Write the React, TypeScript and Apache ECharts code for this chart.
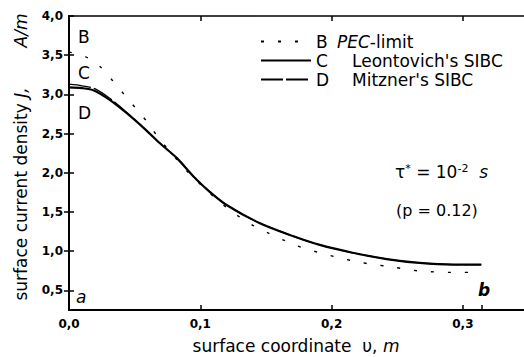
import { useEffect, useRef } from "react";
import * as echarts from "echarts";

// surface coordinate v (m) and surface current density J (A/m)
const vB = [0, 0.0122, 0.0247, 0.0335, 0.043, 0.0515, 0.06, 0.068, 0.077, 0.09, 0.106, 0.116, 0.1275, 0.139, 0.152, 0.165, 0.177, 0.191, 0.205, 0.218, 0.232, 0.246, 0.26, 0.274, 0.288, 0.3, 0.314];
const jB = [3.54, 3.485, 3.34, 3.17, 2.98, 2.81, 2.64, 2.45, 2.27, 2.02, 1.76, 1.61, 1.465, 1.34, 1.23, 1.13, 1.05, 0.98, 0.92, 0.87, 0.83, 0.8, 0.76, 0.74, 0.73, 0.73, 0.73];

const vC = [0, 0.01, 0.019, 0.031, 0.044, 0.057, 0.069, 0.082, 0.095, 0.107, 0.12, 0.145, 0.171, 0.191, 0.216, 0.242, 0.267, 0.293, 0.314];
const jC = [3.09, 3.08, 3.05, 2.93, 2.76, 2.57, 2.38, 2.19, 1.95, 1.76, 1.59, 1.36, 1.19, 1.08, 0.98, 0.9, 0.85, 0.83, 0.83];

const vD = [0, 0.01, 0.02, 0.031, 0.044, 0.057, 0.069, 0.082, 0.095, 0.107, 0.12, 0.145, 0.171, 0.191, 0.216, 0.242, 0.267, 0.293, 0.314];
const jD = [3.13, 3.11, 3.07, 2.95, 2.77, 2.57, 2.38, 2.19, 1.95, 1.76, 1.59, 1.36, 1.19, 1.08, 0.98, 0.9, 0.85, 0.83, 0.83];

const seriesNames = ["B", "C", "D"];
const legendTexts = ["{i|PEC}-limit", "Leontovich's SIBC", "Mitzner's SIBC"];
const xLabelValues = [0, 0.1, 0.2, 0.3];
const xTickValues = [0.1, 0.2, 0.3, 0.314];
const xTopTickValues = [0.1, 0.2, 0.3];
const yValues = [0.5, 1.0, 1.5, 2.0, 2.5, 3.0, 3.5, 4.0];
const yRightTicks = [0.5, 1.0, 1.5, 2.0, 2.5, 3.0, 3.5];

const FONT = "DejaVu Sans";

export default function App() {
  const ref = useRef<HTMLDivElement>(null);
  useEffect(() => {
    if (!ref.current) return;
    const chart = echarts.init(ref.current, undefined, { renderer: "svg" });
    const pairs = (xs: number[], ys: number[]) => xs.map((x, i) => [x, ys[i]]);
    const fmt = (v: number) => v.toFixed(1).replace(".", ",");
    const tickLabel = { color: "#000", fontFamily: FONT, fontWeight: "bold" as const, fontSize: 12 };
    const X_MAX = 0.3473;
    chart.setOption({
      animation: false,
      backgroundColor: "#fff",
      grid: { left: 69, top: 16, right: -1, bottom: 47, outerBoundsMode: "none", containLabel: false },
      xAxis: [
        {
          type: "value", min: 0, max: X_MAX, position: "bottom",
          axisLine: { show: true, lineStyle: { color: "#000", width: 2 } },
          axisTick: { show: true, inside: true, length: 5, customValues: xTickValues, lineStyle: { color: "#000", width: 1.5 } },
          axisLabel: { ...tickLabel, margin: 8, customValues: xLabelValues, formatter: fmt },
          splitLine: { show: false },
        },
        {
          type: "value", min: 0, max: X_MAX, position: "top",
          axisLine: { show: true, lineStyle: { color: "#000", width: 1.5 } },
          axisTick: { show: true, inside: true, length: 5, customValues: xTopTickValues, lineStyle: { color: "#000", width: 1.5 } },
          axisLabel: { show: false },
          splitLine: { show: false },
        },
      ],
      yAxis: [
        {
          type: "value", min: 0.25, max: 4.0, position: "left",
          axisLine: { show: true, lineStyle: { color: "#000", width: 2 } },
          axisTick: { show: true, inside: true, length: 5, customValues: yValues, lineStyle: { color: "#000", width: 1.5 } },
          axisLabel: { ...tickLabel, margin: 6, customValues: yValues, formatter: fmt },
          splitLine: { show: false },
        },
        {
          type: "value", min: 0.25, max: 4.0, position: "right",
          axisLine: { show: true, lineStyle: { color: "#000", width: 1.5 } },
          axisTick: { show: true, inside: true, length: 5, customValues: yRightTicks, lineStyle: { color: "#000", width: 1.5 } },
          axisLabel: { show: false },
          splitLine: { show: false },
        },
      ],
      legend: {
        orient: "vertical", left: 255, top: 28, itemWidth: 50, itemHeight: 18, itemGap: 2,
        data: seriesNames,
        itemStyle: { opacity: 0, color: "rgba(0,0,0,0)", borderWidth: 0 },
        formatter: (name: string) =>
          (name === "B" ? `{kb|${name}}` : `{k|${name}}`) + legendTexts[seriesNames.indexOf(name)],
        textStyle: {
          color: "#000", fontFamily: FONT, fontSize: 17,
          rich: {
            kb: { width: 21, color: "#000", fontFamily: FONT, fontSize: 17 },
            k: { width: 36, color: "#000", fontFamily: FONT, fontSize: 17 },
            i: { fontStyle: "italic", color: "#000", fontFamily: FONT, fontSize: 17 },
          },
        },
      },
      series: [
        {
          type: "line", name: "B", data: pairs(vB, jB), symbol: "none", smooth: 0.3, z: 2,
          lineStyle: { color: "#000", width: 1.4, type: [3, 14] }, itemStyle: { color: "#000" },
        },
        {
          type: "line", name: "C", data: pairs(vC, jC), symbol: "none", smooth: 0.3, z: 4,
          lineStyle: { color: "#000", width: 2.2, type: "solid" }, itemStyle: { color: "#000" },
        },
        {
          type: "line", name: "D", data: pairs(vD, jD), symbol: "none", smooth: 0.3, z: 3,
          lineStyle: { color: "#000", width: 1.3, type: [22, 3] }, itemStyle: { color: "#000" },
        },
      ],
      graphic: [
        { type: "text", x: 78, y: 37, style: { text: "B", font: `17px ${FONT}`, fill: "#000", verticalAlign: "middle" } },
        { type: "text", x: 78, y: 73, style: { text: "C", font: `17px ${FONT}`, fill: "#000", verticalAlign: "middle" } },
        { type: "text", x: 78, y: 113, style: { text: "D", font: `17px ${FONT}`, fill: "#000", verticalAlign: "middle" } },
        { type: "text", x: 76, y: 297, style: { text: "a", font: `italic 17px ${FONT}`, fill: "#000", verticalAlign: "middle" } },
        { type: "text", x: 478, y: 290, style: { text: "b", font: `italic bold 17px ${FONT}`, fill: "#000", verticalAlign: "middle" } },
        {
          type: "text", x: 395, y: 172,
          style: {
            text: "τ{sup|*} = 10{sup|-2}  {it|s}", fill: "#000", font: `17px ${FONT}`, verticalAlign: "middle",
            rich: {
              sup: { fontSize: 11, verticalAlign: "top", padding: [0, 0, 8, 0], fontFamily: FONT, fill: "#000" },
              it: { fontStyle: "italic", fontSize: 17, fontFamily: FONT, fill: "#000" },
            },
          },
        },
        { type: "text", x: 396, y: 210, style: { text: "(p = 0.12)", font: `16px ${FONT}`, fill: "#000", verticalAlign: "middle" } },
        {
          type: "text", x: 21, y: 157, rotation: Math.PI / 2,
          style: {
            text: "surface current density {it|J,}{sp| }{it|A/m}", font: `17px ${FONT}`, fill: "#000",
            align: "center", verticalAlign: "middle",
            rich: {
              it: { fontStyle: "italic", fontSize: 17, fontFamily: FONT, fill: "#000" },
              sp: { width: 40, fontSize: 17, fontFamily: FONT },
            },
          },
        },
        {
          type: "text", x: 296, y: 346,
          style: {
            text: "surface coordinate  υ, {it|m}", font: `17px ${FONT}`, fill: "#000",
            align: "center", verticalAlign: "middle",
            rich: { it: { fontStyle: "italic", fontSize: 17, fontFamily: FONT, fill: "#000" } },
          },
        },
      ],
    });
    return () => chart.dispose();
  }, []);
  return (
    <div
      ref={ref}
      style={{ position: "absolute", left: 0, top: 0, width: 524, height: 357, background: "#fff" }}
    />
  );
}
